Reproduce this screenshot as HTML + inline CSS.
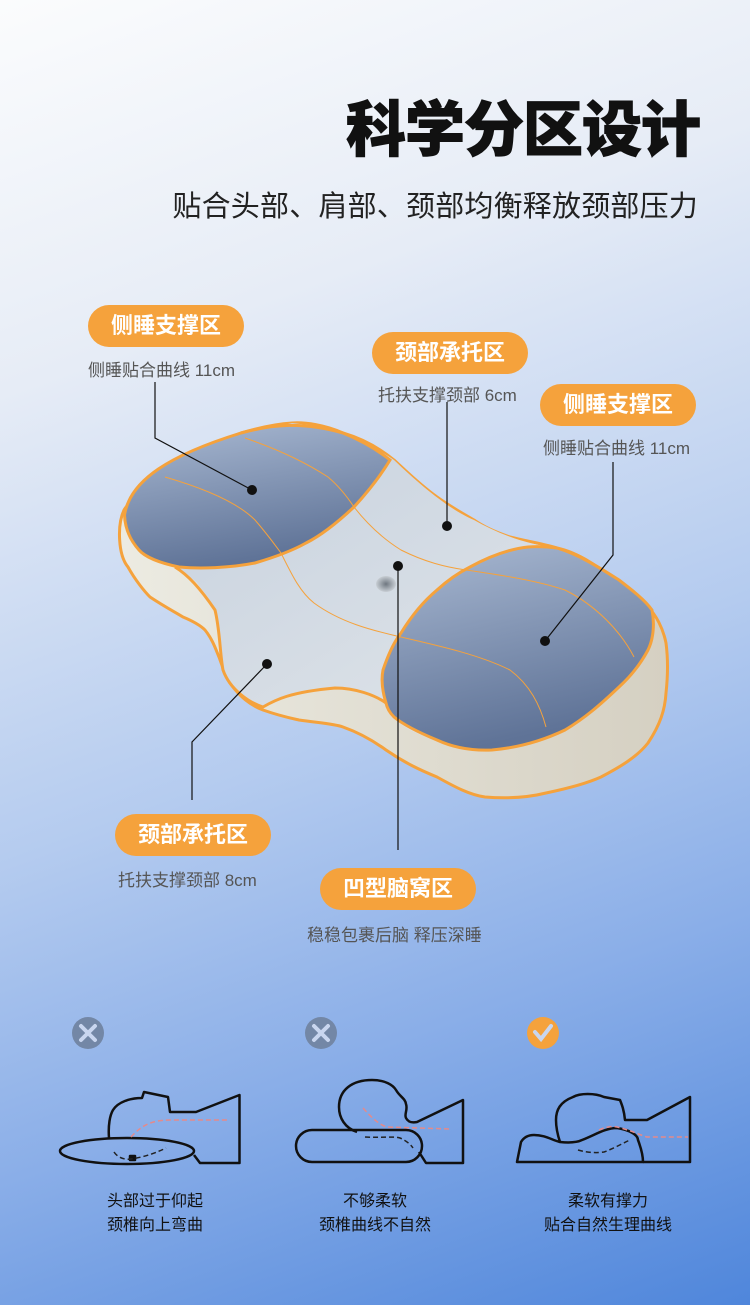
<!DOCTYPE html>
<html><head><meta charset="utf-8"><style>
*{margin:0;padding:0;box-sizing:border-box}
body{width:750px;height:1305px;overflow:hidden;position:relative;font-family:"Liberation Sans","Noto Sans CJK SC",sans-serif;background:linear-gradient(160deg,#fbfcfd 0%,#e6ecf6 25%,#b4cbef 55%,#8aaee8 75%,#4f86db 100%)}
.t{position:absolute;white-space:nowrap}
.title{right:50px;top:82px;font-size:60px;font-weight:900;color:#111;letter-spacing:-1px;-webkit-text-stroke:1px #111}
.sub{right:52px;top:183px;font-size:29px;color:#222;letter-spacing:0.2px}
.pill{position:absolute;height:42px;border-radius:21px;background:#f5a23c;color:#fff;font-size:22px;font-weight:bold;line-height:42px;text-align:center;width:156px}
.cap{position:absolute;font-size:17px;color:#555;white-space:nowrap}
.bc{position:absolute;width:220px;text-align:center;font-size:16px;color:#111;line-height:24px}
</style></head><body>
<div class="t title">科学分区设计</div>
<div class="t sub">贴合头部、肩部、颈部均衡释放颈部压力</div>

<svg style="position:absolute;left:0;top:0" width="750" height="1305">
<defs>
<linearGradient id="pad" x1="0" y1="0" x2="0.3" y2="1"><stop offset="0" stop-color="#a9b9d2"/><stop offset="1" stop-color="#5f7397"/></linearGradient>
<linearGradient id="side" x1="0" y1="0" x2="1" y2="0"><stop offset="0" stop-color="#ecebe2"/><stop offset="1" stop-color="#d5d0c2"/></linearGradient>
<linearGradient id="top" x1="0" y1="0" x2="1" y2="1"><stop offset="0" stop-color="#c5d0de"/><stop offset="1" stop-color="#e3e7ea"/></linearGradient>
<radialGradient id="dent"><stop offset="0" stop-color="#6f7780"/><stop offset="1" stop-color="#c8ced4"/></radialGradient>
</defs>
<path d="M124,510 C117,525 118,555 128,567 C135,580 145,592 150,597 C165,607 175,612 183,617 C195,622 202,627 205,630 C213,640 216,650 219,657 C223,668 226,677 230,683 C240,697 250,705 263,710 C280,716 290,718 299,720 C320,723 335,724 343,727 C360,733 375,742 386,750 C405,763 420,770 437,777 C455,787 470,795 485,797 C510,799 530,797 546,793 C570,788 590,782 601,777 C620,767 637,757 648,743 C660,725 665,710 666,693 C668,675 668,658 666,643 C663,628 656,615 648,607 C638,597 628,590 619,583 C600,568 580,553 557,548 C540,543 525,541 510,537 C495,532 484,527 474,520 C460,512 448,505 437,497 C420,485 405,470 394,460 C378,447 360,438 343,433 C325,425 305,422 292,423 C275,424 258,428 241,433 C220,441 200,450 183,460 C165,470 150,482 139,493 C132,500 127,505 124,510 Z" fill="url(#side)" stroke="#f5a23c" stroke-width="3"/>
<path d="M124,515 C130,470 200,445 292,423 C340,428 380,450 394,460 C420,485 450,510 474,520 C500,535 530,545 557,548 C590,560 630,590 652,610 C650,650 620,690 565,730 C520,750 480,752 437,740 C410,732 395,725 386,703 C370,693 350,688 335,688 C310,690 295,693 281,697 C272,702 268,706 263,707 C245,697 228,685 223,670 C220,640 217,620 215,610 C208,595 200,588 197,583 C188,575 180,570 175,567 C150,560 128,545 124,515 Z" fill="url(#top)"/>
<path d="M175,567 C188,575 200,588 215,610 C220,630 220,655 223,670 C230,690 250,703 263,707 C275,700 290,692 335,688 C355,688 375,695 386,703" fill="none" stroke="#f5a23c" stroke-width="3"/>
<path d="M124.5,515 C130,480 170,455 241,433 C270,425 300,421 343,433 C365,442 380,452 390,460 C378,480 365,495 354,507 C338,522 322,535 306,543 C290,552 272,558 255,563 C230,568 200,569 179,567 C160,563 145,557 139,550 C130,540 125,528 124.5,515 Z" fill="url(#pad)" stroke="#f5a23c" stroke-width="3"/>
<path d="M386,703 C382,690 381,680 383,670 C388,655 394,642 401,633 C412,615 425,600 437,590 C448,580 460,572 470,567 C490,556 510,549 528,547 C540,546 550,547 557,548 C580,555 600,568 619,580 C632,590 645,600 652,610 C655,625 653,640 648,650 C640,665 630,677 619,687 C600,705 585,718 565,730 C540,742 515,748 492,750 C470,751 452,747 437,740 C420,733 405,726 394,717 C390,713 387,708 386,703 Z" fill="url(#pad)" stroke="#f5a23c" stroke-width="3"/>
<path d="M165,477 C210,490 240,505 255,520 C268,535 275,545 281,553 C292,575 300,592 314,603 C340,622 370,630 401,637 C440,646 480,655 510,670 C530,685 540,705 546,727" fill="none" stroke="#f5a23c" stroke-width="1"/>
<path d="M245,438 C280,450 305,462 328,477 C340,487 348,498 354,507 C368,525 385,540 401,550 C425,562 445,567 466,570 C500,575 535,580 565,590 C595,605 620,630 634,657" fill="none" stroke="#f5a23c" stroke-width="1"/>
<ellipse cx="386" cy="584" rx="10" ry="8" fill="url(#dent)"/>
<g stroke="#111" stroke-width="1.2" fill="none">
<polyline points="155,382 155,438 252,490"/>
<polyline points="447,402 447,526"/>
<polyline points="613,462 613,555 545,641"/>
<polyline points="192,800 192,742 267,664"/>
<polyline points="398,566 398,850"/>
</g>
<g fill="#111"><circle cx="252" cy="490" r="5"/><circle cx="447" cy="526" r="5"/><circle cx="545" cy="641" r="5"/><circle cx="267" cy="664" r="5"/><circle cx="398" cy="566" r="5"/></g>

<circle cx="88" cy="1033" r="16" fill="#7387a6"/>
<path d="M81,1026 L95,1040 M95,1026 L81,1040" stroke="#c9d6ef" stroke-width="4" stroke-linecap="round"/>
<circle cx="321" cy="1033" r="16" fill="#7387a6"/>
<path d="M314,1026 L328,1040 M328,1026 L314,1040" stroke="#c9d6ef" stroke-width="4" stroke-linecap="round"/>
<circle cx="543" cy="1033" r="16" fill="#f5a23c"/>
<path d="M535,1032 L541,1039 L551,1026" stroke="#c9d6ef" stroke-width="4" fill="none" stroke-linecap="round"/>

<g fill="none" stroke="#111" stroke-width="2.5" stroke-linejoin="round">
<ellipse cx="127" cy="1151" rx="67" ry="13"/>
<path d="M109,1138 C108,1125 110,1115 113,1110 C118,1102 130,1098 142,1098 L144,1092 L168,1097 L170,1112 L196,1112 L239.5,1095 L239.5,1163 L200,1163 L194,1155"/>
<rect x="130" y="1156" width="5" height="4" fill="#111"/>
<rect x="296" y="1130" width="126" height="32" rx="16"/>
<path d="M357,1132 C345,1128 339,1118 339,1107 C339,1090 352,1080 372,1080 C385,1080 393,1085 396,1090 C400,1097 405,1098 406,1104 C408,1110 404,1114 406,1118 C408,1122 412,1123 417,1122 L463,1100 L463,1163 L426,1163 L419,1152"/>
<path d="M517,1162 L521,1142 C524,1137 528,1135 534,1135 C545,1135 552,1140 560,1142 C570,1143 578,1142 582,1140 C595,1135 605,1128 617,1128 C630,1130 638,1135 638,1140 C641,1148 643,1155 643,1162 Z"/>
<path d="M643,1162 L690,1162 L690,1097 L647,1120 L625,1120 C624,1110 622,1105 620,1100 L604,1097 C595,1093 580,1093 573,1097 C560,1102 556,1110 556,1120 C556,1128 558,1136 560,1142"/>
</g>
<g fill="none" stroke-width="1.5" stroke-dasharray="5,3">
<path d="M131,1137 C140,1127 150,1120 170,1120 L229,1120" stroke="#e58a8a"/>
<path d="M114,1152 C118,1158 125,1160 131,1159 C145,1157 158,1152 166,1148" stroke="#222"/>
<path d="M363,1108 C372,1118 378,1124 387,1127 L450,1129" stroke="#e58a8a"/>
<path d="M365,1137 C380,1138 395,1136 400,1138 C407,1141 411,1145 413,1148" stroke="#222"/>
<path d="M599,1130 C605,1127 612,1126 617,1127 C630,1130 640,1135 647,1137 L688,1137" stroke="#e58a8a"/>
<path d="M578,1150 C588,1153 598,1153 604,1152 C615,1148 625,1142 630,1140" stroke="#222"/>
</g>
</svg>

<div class="pill" style="left:88px;top:305px">侧睡支撑区</div>
<div class="cap" style="left:88px;top:356px">侧睡贴合曲线 11cm</div>
<div class="pill" style="left:372px;top:332px">颈部承托区</div>
<div class="cap" style="left:378px;top:381px">托扶支撑颈部 6cm</div>
<div class="pill" style="left:540px;top:384px">侧睡支撑区</div>
<div class="cap" style="left:543px;top:434px">侧睡贴合曲线 11cm</div>
<div class="pill" style="left:115px;top:814px">颈部承托区</div>
<div class="cap" style="left:118px;top:866px">托扶支撑颈部 8cm</div>
<div class="pill" style="left:320px;top:868px">凹型脑窝区</div>
<div class="cap" style="left:307px;top:921px">稳稳包裹后脑 释压深睡</div>

<div class="bc" style="left:45px;top:1190px">头部过于仰起<br>颈椎向上弯曲</div>
<div class="bc" style="left:265px;top:1190px">不够柔软<br>颈椎曲线不自然</div>
<div class="bc" style="left:498px;top:1190px">柔软有撑力<br>贴合自然生理曲线</div>
</body></html>
